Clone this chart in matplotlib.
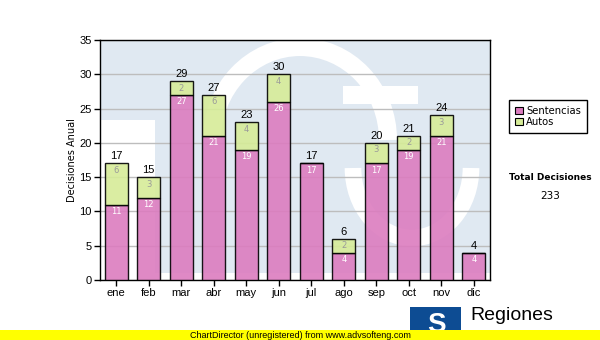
import matplotlib.pyplot as plt
from matplotlib.patches import Rectangle, Arc, Patch

months = ['ene', 'feb', 'mar', 'abr', 'may', 'jun', 'jul', 'ago', 'sep', 'oct', 'nov', 'dic']
sentencias = [11, 12, 27, 21, 19, 26, 17, 4, 17, 19, 21, 4]
autos = [6, 3, 2, 6, 4, 4, 0, 2, 3, 2, 3, 0]
totals = [s + a for s, a in zip(sentencias, autos)]

pink = '#dc7cbf'
green = '#d6ec98'
font = 'Liberation Sans'

fig = plt.figure(figsize=(6, 3.4), dpi=100)

# background layer in pixel coordinates for the watermark logo
bg = fig.add_axes([0, 0, 1, 1], zorder=0)
bg.set_xlim(0, 600)
bg.set_ylim(340, 0)
bg.axis('off')
bg.add_patch(Rectangle((100, 40), 390, 233, color='#e0e9f2', lw=0))
bg.add_patch(Rectangle((100, 120), 55, 160, color='white', lw=0))
bg.add_patch(Arc((300, 140), 176, 186, theta1=180, theta2=360, color='white', lw=13))
bg.add_patch(Rectangle((343, 86), 75, 18, color='white', lw=0))
bg.add_patch(Arc((412, 168), 118, 140, theta1=0, theta2=180, color='white', lw=12))

ax = fig.add_axes([100 / 600, 60 / 340, 390 / 600, 240 / 340], zorder=1)
ax.set_facecolor('none')

x = range(len(months))
ax.bar(x, sentencias, width=0.7, color=pink, alpha=0.9, edgecolor='black', linewidth=1, zorder=3)
ax.bar(x, autos, width=0.7, bottom=sentencias, color=green, alpha=0.9, edgecolor='black', linewidth=1, zorder=3)

for i in x:
    ax.annotate(str(sentencias[i]), (i, sentencias[i]), xytext=(0, -5), textcoords='offset points',
                ha='center', va='center', fontsize=6, color='white', family='DejaVu Sans', zorder=4)
    if autos[i]:
        ax.annotate(str(autos[i]), (i, totals[i]), xytext=(0, -5), textcoords='offset points',
                    ha='center', va='center', fontsize=6, color='#9a9a9a', family='DejaVu Sans', zorder=4)
    ax.annotate(str(totals[i]), (i, totals[i]), xytext=(0, 5), textcoords='offset points',
                ha='center', va='center', fontsize=8, color='black', family=font, zorder=4)

ax.set_xlim(-0.5, len(months) - 0.5)
ax.set_ylim(0, 35)
ax.set_yticks(range(0, 36, 5))
ax.set_xticks(list(x))
ax.set_xticklabels(months)
ax.yaxis.grid(True, color='#bdbdbd', linewidth=1, zorder=1)
ax.set_axisbelow(True)
ax.tick_params(axis='both', labelsize=8, length=4, width=1, color='black', pad=2)
for lab in ax.get_xticklabels() + ax.get_yticklabels():
    lab.set_family(font)
for sp in ax.spines.values():
    sp.set_color('black')
    sp.set_linewidth(1)
ax.set_ylabel('Decisiones Anual', fontsize=7, family='DejaVu Sans', labelpad=2)

handles = [Patch(facecolor=pink, edgecolor='black', linewidth=0.8, label='Sentencias'),
           Patch(facecolor=green, edgecolor='black', linewidth=0.8, label='Autos')]
leg = fig.legend(handles=handles, loc='upper left', bbox_to_anchor=(509 / 600, 1 - 100 / 340),
                 fancybox=False, edgecolor='black', framealpha=1,
                 handlelength=0.8, handleheight=0.8, handletextpad=0.3, borderpad=0.6,
                 labelspacing=0.1, borderaxespad=0, prop={'family': 'DejaVu Sans', 'size': 7.2})
leg.get_frame().set_linewidth(1)

fig.text(550 / 600, 1 - 177 / 340, 'Total Decisiones', ha='center', va='center',
         fontsize=6.5, fontweight='bold', family='DejaVu Sans')
fig.text(550 / 600, 1 - 196 / 340, str(sum(totals)), ha='center', va='center',
         fontsize=7.5, family='DejaVu Sans')

# footer: logo, name and the yellow banner
bg.add_patch(Rectangle((410, 307), 51, 33, color='#0d4c93', lw=0))
bg.text(436, 325, 'S', ha='center', va='center', fontsize=20, fontweight='bold', color='white', family=font)
bg.text(470, 316, 'Regiones', ha='left', va='center', fontsize=14, family=font, color='black')
bg.add_patch(Rectangle((0, 330), 600, 10, color='#ffff00', lw=0, zorder=5))
bg.text(300, 335, 'ChartDirector (unregistered) from www.advsofteng.com', ha='center', va='center',
        fontsize=6.5, family=font, color='black', zorder=6)

fig.savefig('out.png', dpi=100)
